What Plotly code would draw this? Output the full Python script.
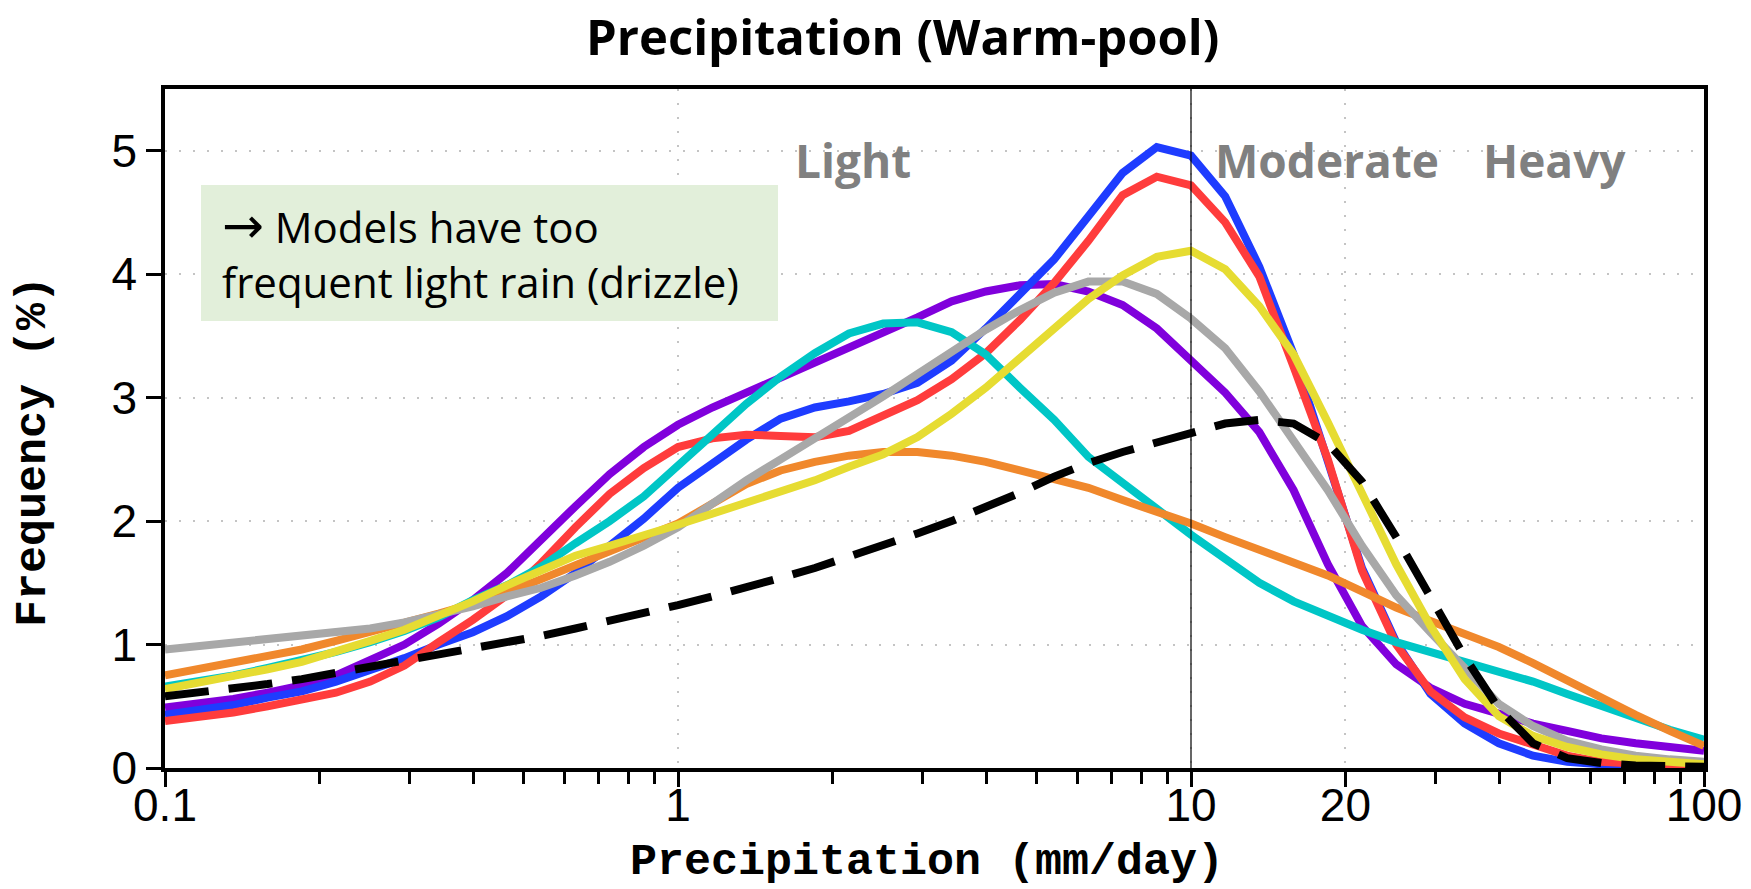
import plotly.graph_objects as go

# ---------------- data ----------------
# precipitation bins (mm/day), log-spaced 15 per decade
PRECIP = [0.1, 0.1166, 0.1359, 0.1585, 0.1848, 0.2154, 0.2512, 0.2929, 0.3415, 0.3981,
          0.4642, 0.5412, 0.631, 0.7356, 0.8577, 1.0, 1.166, 1.359, 1.585, 1.848,
          2.154, 2.512, 2.929, 3.415, 3.981, 4.642, 5.412, 6.31, 7.356, 8.577,
          10.0, 11.66, 13.59, 15.85, 18.48, 21.54, 25.12, 29.29, 34.15, 39.81,
          46.42, 54.12, 63.1, 73.56, 85.77, 100.0]

OBS = [0.58, 0.61, 0.64, 0.68, 0.72, 0.77, 0.82, 0.87, 0.91, 0.96,
       1.01, 1.07, 1.13, 1.19, 1.25, 1.32, 1.39, 1.46, 1.54, 1.62,
       1.71, 1.80, 1.90, 2.00, 2.11, 2.23, 2.36, 2.47, 2.56, 2.64,
       2.72, 2.79, 2.82, 2.79, 2.63, 2.32, 1.87, 1.37, 0.90, 0.48,
       0.20, 0.08, 0.04, 0.02, 0.01, 0.01]

PURPLE = [0.49, 0.52, 0.56, 0.61, 0.67, 0.75, 0.87, 1.00, 1.17, 1.36,
          1.58, 1.86, 2.12, 2.38, 2.60, 2.78, 2.92, 3.04, 3.16, 3.29,
          3.41, 3.53, 3.65, 3.78, 3.86, 3.91, 3.92, 3.86, 3.75, 3.56,
          3.31, 3.04, 2.72, 2.25, 1.65, 1.15, 0.84, 0.65, 0.52, 0.44,
          0.36, 0.30, 0.24, 0.20, 0.17, 0.14]

BLUE = [0.43, 0.47, 0.51, 0.57, 0.62, 0.70, 0.79, 0.89, 1.00, 1.10,
        1.23, 1.39, 1.58, 1.80, 2.02, 2.27, 2.47, 2.66, 2.83, 2.92,
        2.97, 3.03, 3.12, 3.30, 3.56, 3.85, 4.12, 4.47, 4.82, 5.03,
        4.96, 4.63, 4.06, 3.35, 2.50, 1.62, 1.02, 0.60, 0.36, 0.20,
        0.10, 0.05, 0.03, 0.02, 0.01, 0.01]

RED = [0.38, 0.41, 0.45, 0.50, 0.55, 0.61, 0.70, 0.83, 1.02, 1.20,
       1.40, 1.66, 1.95, 2.22, 2.43, 2.60, 2.67, 2.70, 2.69, 2.68,
       2.73, 2.85, 2.98, 3.15, 3.36, 3.63, 3.93, 4.27, 4.64, 4.79,
       4.72, 4.42, 3.98, 3.25, 2.50, 1.60, 1.00, 0.62, 0.41, 0.28,
       0.19, 0.10, 0.05, 0.03, 0.02, 0.02]

CYAN = [0.66, 0.70, 0.75, 0.81, 0.87, 0.94, 1.02, 1.11, 1.22, 1.36,
        1.48, 1.63, 1.82, 2.00, 2.20, 2.46, 2.70, 2.95, 3.17, 3.36,
        3.52, 3.60, 3.61, 3.53, 3.35, 3.08, 2.82, 2.52, 2.30, 2.10,
        1.89, 1.70, 1.50, 1.35, 1.23, 1.12, 1.02, 0.94, 0.86, 0.79,
        0.70, 0.60, 0.50, 0.40, 0.31, 0.23]

ORANGE = [0.75, 0.80, 0.85, 0.91, 0.96, 1.03, 1.10, 1.17, 1.25, 1.33,
          1.42, 1.53, 1.64, 1.75, 1.86, 1.98, 2.14, 2.30, 2.41, 2.48,
          2.53, 2.56, 2.56, 2.53, 2.48, 2.41, 2.34, 2.27, 2.17, 2.08,
          1.98, 1.87, 1.77, 1.67, 1.56, 1.43, 1.30, 1.19, 1.09, 0.98,
          0.85, 0.71, 0.56, 0.43, 0.30, 0.18]

GRAY = [0.96, 0.99, 1.02, 1.04, 1.07, 1.10, 1.13, 1.18, 1.24, 1.31,
        1.39, 1.46, 1.56, 1.67, 1.80, 1.95, 2.14, 2.33, 2.50, 2.67,
        2.83, 3.01, 3.19, 3.37, 3.55, 3.71, 3.85, 3.94, 3.94, 3.84,
        3.64, 3.40, 3.05, 2.65, 2.25, 1.80, 1.40, 1.10, 0.80, 0.52,
        0.34, 0.22, 0.15, 0.10, 0.07, 0.05]

YELLOW = [0.64, 0.69, 0.74, 0.80, 0.86, 0.94, 1.03, 1.12, 1.23, 1.35,
          1.48, 1.60, 1.72, 1.80, 1.88, 1.97, 2.06, 2.15, 2.24, 2.33,
          2.44, 2.54, 2.68, 2.87, 3.08, 3.32, 3.58, 3.80, 3.99, 4.14,
          4.19, 4.04, 3.74, 3.35, 2.80, 2.22, 1.65, 1.15, 0.72, 0.42,
          0.26, 0.17, 0.11, 0.07, 0.05, 0.03]

BOUNDARY = 10.0          # light / moderate boundary (mm/day)
Y_MAX = 5.5

X_TICKS = [0.1, 1, 10, 20, 100]
X_TICK_TEXT = ["0.1", "1", "10", "20", "100"]
X_MINOR = [0.2, 0.3, 0.4, 0.5, 0.6, 0.7, 0.8, 0.9,
           2, 3, 4, 5, 6, 7, 8, 9,
           30, 40, 50, 60, 70, 80, 90]
Y_TICKS = [0, 1, 2, 3, 4, 5]

TITLE = "Precipitation (Warm-pool)"
X_TITLE = "Precipitation (mm/day)"
Y_TITLE = "Frequency (%)"
NOTE_ARROW = "\u2192"
NOTE_LINE1 = " Models have too"
NOTE_LINE2 = "frequent light rain (drizzle)"
REGIME_LABELS = ["Light", "Moderate", "Heavy"]

# ---------------- styling ----------------
W, H = 1751, 889
L, R, T, B = 165, 47, 89, 121
PW, PH = W - L - R, H - T - B


def px_x(px):
    return (px - L) / PW


def px_y(py):
    return (H - B - py) / PH


models = [
    (PURPLE, "#8000dc"),
    (BLUE, "#1e3cff"),
    (RED, "#ff3c3c"),
    (CYAN, "#00c6c6"),
    (ORANGE, "#f0882c"),
    (GRAY, "#a8a8a8"),
    (YELLOW, "#e6dc32"),
]

fig = go.Figure()
for vals, color in models:
    fig.add_trace(go.Scatter(x=PRECIP, y=vals, mode="lines",
                             line=dict(color=color, width=8),
                             showlegend=False, hoverinfo="skip"))

fig.add_trace(go.Scatter(x=PRECIP, y=OBS, mode="lines",
                         line=dict(color="black", width=8, dash="44px,20px"),
                         showlegend=False, hoverinfo="skip"))

fig.add_trace(go.Scatter(x=[BOUNDARY, BOUNDARY], y=[0, Y_MAX], mode="lines",
                         line=dict(color="black", width=1.2),
                         showlegend=False, hoverinfo="skip"))

tickfont = dict(family="Liberation Sans, Arial, sans-serif", size=46, color="black")
axis_common = dict(
    ticks="outside", ticklen=15, tickwidth=2.5, tickcolor="black",
    showline=True, linewidth=3.5, linecolor="black", mirror=True,
    showgrid=True, gridcolor="#c4c4c4", gridwidth=2, griddash="2px,12px",
    zeroline=False, tickfont=tickfont, automargin=False,
)

fig.update_xaxes(type="log", range=[-1, 2], tickmode="array",
                 tickvals=X_TICKS, ticktext=X_TICK_TEXT,
                 ticklabelstandoff=-21,
                 minor=dict(tickmode="array", tickvals=X_MINOR, ticks="outside",
                            ticklen=12, tickwidth=2.5, tickcolor="black",
                            showgrid=False),
                 **axis_common)
fig.update_yaxes(range=[0, Y_MAX], tickmode="array", tickvals=Y_TICKS,
                 **axis_common)

annotations = []
# title
annotations.append(dict(text=TITLE, xref="paper", yref="paper",
                        x=px_x(902), y=px_y(36), xanchor="center", yanchor="middle",
                        showarrow=False,
                        font=dict(family="Open Sans, sans-serif", size=49,
                                  color="black", weight="bold")))
# axis titles
mono = dict(family="Liberation Mono, Courier New, monospace", size=45,
            color="black", weight="bold")
annotations.append(dict(text=X_TITLE, xref="paper", yref="paper",
                        x=px_x(927), y=px_y(862), xanchor="center", yanchor="middle",
                        showarrow=False, font=mono))
annotations.append(dict(text=Y_TITLE, xref="paper", yref="paper",
                        x=px_x(33), y=px_y(452), xanchor="center", yanchor="middle",
                        textangle=-90, showarrow=False, font=mono))
# regime labels
label_font = dict(family="Open Sans, sans-serif", size=46, color="#808080", weight="bold")
for txt, cx in zip(REGIME_LABELS, [853, 1327, 1554]):
    annotations.append(dict(text=txt, xref="paper", yref="paper",
                            x=px_x(cx), y=px_y(160), xanchor="center", yanchor="middle",
                            showarrow=False, font=label_font))
# note
note_text = ('<span style="font-family:DejaVu Sans;font-size:50px">' + NOTE_ARROW + '</span>'
             + NOTE_LINE1 + '<br>' + NOTE_LINE2)
annotations.append(dict(text=note_text, xref="paper", yref="paper",
                        x=px_x(220), y=px_y(253), xanchor="left", yanchor="middle",
                        align="left", showarrow=False,
                        font=dict(family="Open Sans, sans-serif", size=42, color="black")))

fig.update_layout(
    width=W, height=H,
    margin=dict(l=L, r=R, t=T, b=B, autoexpand=False),
    paper_bgcolor="white", plot_bgcolor="white",
    annotations=annotations,
    shapes=[dict(type="rect", xref="paper", yref="paper",
                 x0=px_x(201), x1=px_x(778), y0=px_y(321), y1=px_y(185),
                 fillcolor="#e2efda", line=dict(width=0), layer="above")],
)

fig.write_html("out.html")
